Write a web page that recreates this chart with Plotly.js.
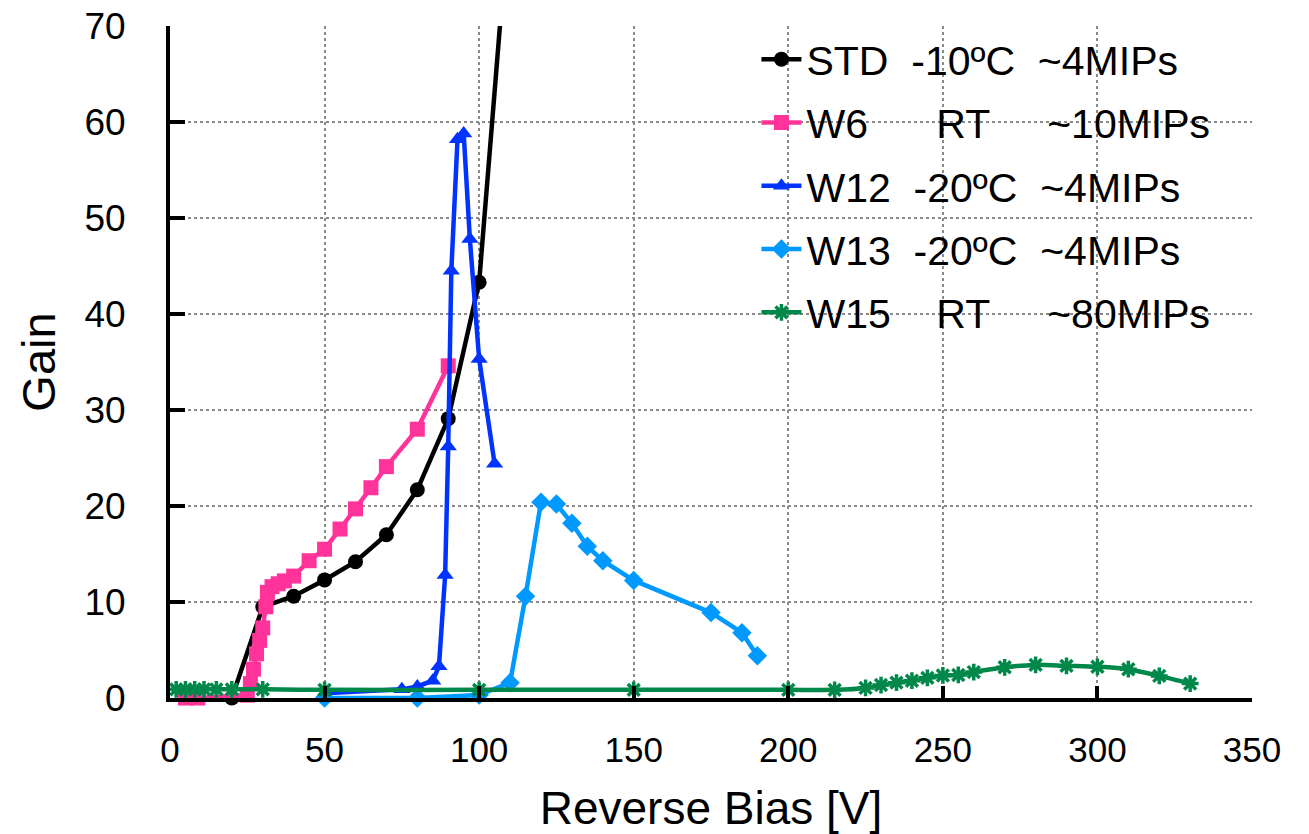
<!DOCTYPE html>
<html>
<head>
<meta charset="utf-8">
<script src="https://cdn.plot.ly/plotly-3.0.1.min.js"></script>
<style>html,body{margin:0;padding:0;background:#fff;}#chart{width:1309px;height:834px;}</style>
</head>
<body>
<div id="chart"></div>
<script>
// ---- data ----
const stdX = [20, 30, 40, 50, 60, 70, 80, 90, 100, 110];
const stdY = [0.0, 9.5, 10.6, 12.3, 14.2, 17.0, 21.7, 29.1, 43.3, 83];

const w6X = [5, 9, 25, 26, 27, 28, 29, 30, 31, 31.5, 33, 35, 37, 40, 45, 50, 55, 60, 65, 70, 80, 90];
const w6Y = [0.0, 0.0, 0.3, 1.5, 3.0, 4.6, 6.0, 7.3, 9.5, 11.0, 11.6, 11.9, 12.2, 12.7, 14.3, 15.5, 17.6, 19.7, 21.9, 24.1, 28.0, 34.6];

const w12X = [50, 75, 80, 85, 87, 89, 90, 91, 93, 95, 97, 100, 105];
const w12Y = [0.5, 0.9, 1.2, 1.8, 3.3, 12.8, 26.2, 44.5, 58.2, 58.8, 47.8, 35.3, 24.4];

const w13X = [50, 80, 100, 110, 115, 120, 125, 130, 135, 140, 150, 175, 185, 190];
const w13Y = [0.0, 0.0, 0.3, 1.6, 10.6, 20.4, 20.2, 18.2, 15.8, 14.3, 12.25, 8.9, 6.8, 4.4];

const w15X = [2, 5, 8, 11, 15, 20, 30, 50, 100, 150, 200, 215, 225, 230, 235, 240, 245, 250, 255, 260, 270, 280, 290, 300, 310, 320, 330];
const w15Y = [0.9, 0.9, 0.9, 0.9, 0.9, 0.9, 0.9, 0.85, 0.85, 0.85, 0.85, 0.85, 1.05, 1.35, 1.6, 1.8, 2.1, 2.35, 2.4, 2.7, 3.2, 3.45, 3.35, 3.25, 3.0, 2.3, 1.5];

const NB = "\u00a0";
const sp = n => NB.repeat(n);
const seriesNames = [
  "STD" + sp(2) + "-10ºC" + sp(2) + "~4MIPs",
  "W6" + sp(6) + "RT" + sp(5) + "~10MIPs",
  "W12" + sp(2) + "-20ºC" + sp(2) + "~4MIPs",
  "W13" + sp(2) + "-20ºC" + sp(2) + "~4MIPs",
  "W15" + sp(4) + "RT" + sp(5) + "~80MIPs"
];

const FONT = "Liberation Sans, Arial, sans-serif";

function tr(x, y, name, color, symbol, size, grp, shape, noclip) {
  return {
    x: x, y: y, name: name, type: "scatter", mode: "lines+markers",
    legendgroup: grp, cliponaxis: !noclip,
    line: {color: color, width: 4.5, shape: shape || "linear", smoothing: 0.8},
    marker: {color: color, symbol: symbol, size: size,
             line: {color: color, width: symbol.indexOf("asterisk") === 0 ? 3.5 : 0}}
  };
}

const traces = [
  tr(stdX, stdY, seriesNames[0], "#000000", "circle", 15, "g1", null, true),
  tr(w6X, w6Y, seriesNames[1], "#FF3399", "square", 15, "g2", null, true),
  tr(w12X, w12Y, seriesNames[2], "#0033FF", "triangle-up", 15, "g3"),
  tr(w13X, w13Y, seriesNames[3], "#0099FF", "diamond", 15, "g4", null, true),
  tr(w15X, w15Y, seriesNames[4], "#00884A", "asterisk-open", 14, "g5", "spline")
];

const layout = {
  width: 1309, height: 834,
  margin: {l: 170, r: 57, t: 26, b: 136},
  paper_bgcolor: "#ffffff", plot_bgcolor: "#ffffff",
  font: {family: FONT, color: "#000000"},
  showlegend: true,
  legend: {x: 0.542, y: 1.0, xanchor: "left", yanchor: "top",
           bgcolor: "rgba(0,0,0,0)", font: {size: 41, family: FONT, color: "#000"},
           tracegroupgap: 7, traceorder: "grouped", itemwidth: 40},
  xaxis: {
    range: [0, 350], dtick: 50, tick0: 0,
    showline: true, linecolor: "#000", linewidth: 4,
    ticks: "inside", ticklen: 12, tickwidth: 4, tickcolor: "#000",
    showgrid: true, gridcolor: "#8a8a8a", griddash: "dot", gridwidth: 2,
    zeroline: false,
    tickfont: {size: 35, family: FONT},
    ticklabelstandoff: 18,
    title: {text: "Reverse Bias [V]", font: {size: 46, family: FONT}, standoff: 26}
  },
  yaxis: {
    range: [0, 70], dtick: 10, tick0: 0,
    showline: true, linecolor: "#000", linewidth: 4,
    ticks: "inside", ticklen: 15, tickwidth: 4, tickcolor: "#000",
    showgrid: true, gridcolor: "#8a8a8a", griddash: "dot", gridwidth: 2,
    zeroline: false,
    tickfont: {size: 37, family: FONT},
    ticklabelstandoff: 33,
    title: {text: "Gain", font: {size: 47, family: FONT}, standoff: 15}
  }
};

Plotly.newPlot("chart", traces, layout, {displayModeBar: false, staticPlot: true});
</script>
</body>
</html>
